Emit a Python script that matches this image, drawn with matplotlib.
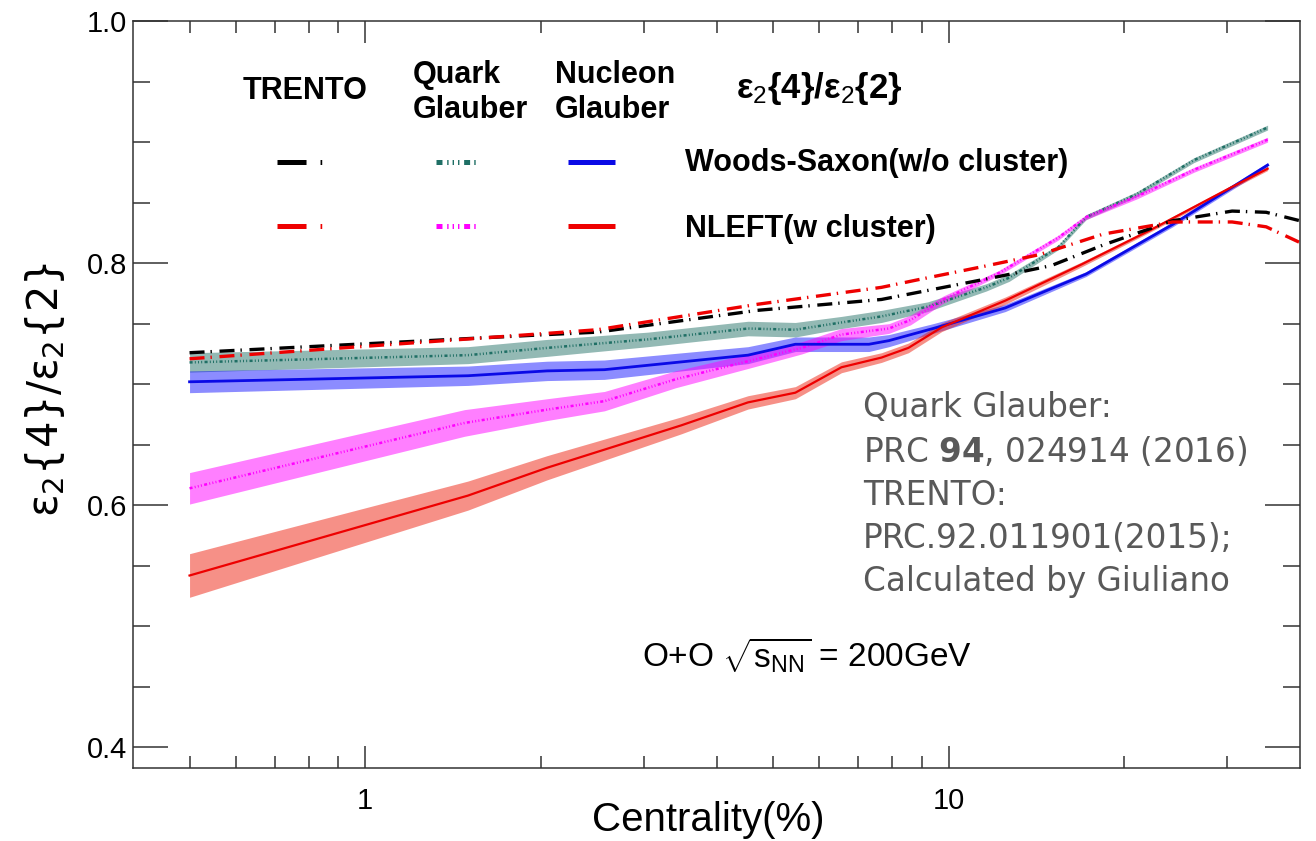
import matplotlib
matplotlib.use("Agg")
import matplotlib.pyplot as plt
from matplotlib.ticker import FixedLocator, FixedFormatter, MultipleLocator, NullFormatter

plt.rcParams['font.family'] = ['Liberation Sans', 'DejaVu Sans']
plt.rcParams['mathtext.fontset'] = 'custom'
plt.rcParams['mathtext.rm'] = 'Liberation Sans'
plt.rcParams['mathtext.it'] = 'Liberation Sans:italic'
plt.rcParams['mathtext.bf'] = 'Liberation Sans:bold'
plt.rcParams['lines.scale_dashes'] = False

# Nucleon Glauber, NLEFT (w cluster) - red band
ng_nleft_x = [0.5, 1.5, 2.05, 3.48, 4.53, 5.46, 6.55, 7.67, 8.53, 9.73, 12.5, 16.9, 22.1, 30.6, 35.2]
ng_nleft_y = [0.542, 0.608, 0.631, 0.666, 0.685, 0.693, 0.714, 0.722, 0.730, 0.747, 0.769, 0.799, 0.827, 0.863, 0.878]
ng_nleft_e = [0.018, 0.012, 0.010, 0.007, 0.0055, 0.005, 0.0045, 0.004, 0.004, 0.0035, 0.003, 0.002, 0.0015, 0.0015, 0.0015]

# Nucleon Glauber, Woods-Saxon (w/o cluster) - blue band
ng_ws_x = [0.5, 1.5, 2.05, 2.57, 4.53, 5.46, 7.3, 7.9, 9.4, 12.5, 17.2, 24.2, 35.2]
ng_ws_y = [0.702, 0.707, 0.711, 0.712, 0.724, 0.733, 0.733, 0.736, 0.746, 0.763, 0.791, 0.832, 0.881]
ng_ws_e = [0.009, 0.008, 0.008, 0.008, 0.007, 0.006, 0.006, 0.005, 0.004, 0.003, 0.002, 0.002, 0.002]

# Quark Glauber, Woods-Saxon - teal band
qg_ws_x = [0.5, 1.5, 2.05, 3.05, 4.53, 5.46, 6.55, 7.67, 9.2, 11.6, 12.7, 15.4, 17.2, 21.0, 26.3, 35.2]
qg_ws_y = [0.718, 0.724, 0.730, 0.737, 0.746, 0.745, 0.751, 0.756, 0.764, 0.780, 0.788, 0.813, 0.838, 0.857, 0.885, 0.912]
qg_ws_e = [0.008, 0.007, 0.007, 0.006, 0.006, 0.006, 0.005, 0.005, 0.004, 0.003, 0.003, 0.002, 0.002, 0.002, 0.002, 0.002]

# Quark Glauber, NLEFT - magenta band
qg_nleft_x = [0.5, 1.48, 2.05, 2.57, 3.4, 4.53, 5.6, 6.55, 7.9, 8.6, 9.8, 12.2, 15.4, 17.2, 21.0, 26.3, 35.2]
qg_nleft_y = [0.614, 0.668, 0.679, 0.686, 0.704, 0.719, 0.730, 0.741, 0.746, 0.753, 0.770, 0.792, 0.821, 0.838, 0.855, 0.877, 0.902]
qg_nleft_e = [0.013, 0.011, 0.009, 0.008, 0.007, 0.006, 0.005, 0.005, 0.004, 0.004, 0.003, 0.002, 0.002, 0.002, 0.002, 0.002, 0.002]

# TRENTO curves (no band)
tr_ws_x = [0.5, 2.05, 2.5, 4.7, 7.67, 9.8, 12.2, 15.0, 18.4, 24.2, 30.6, 35.0, 40.0]
tr_ws_y = [0.726, 0.741, 0.743, 0.761, 0.770, 0.780, 0.789, 0.798, 0.815, 0.835, 0.843, 0.842, 0.835]
tr_nleft_x = [0.5, 2.05, 2.5, 4.7, 7.67, 8.8, 11.4, 14.3, 18.4, 24.2, 30.6, 35.0, 40.0]
tr_nleft_y = [0.721, 0.742, 0.745, 0.766, 0.780, 0.786, 0.797, 0.807, 0.824, 0.834, 0.834, 0.830, 0.817]

ref_lines = ["Quark Glauber:", r"PRC $\mathbf{94}$, 024914 (2016)", "TRENTO:",
             "PRC.92.011901(2015);", "Calculated by Giuliano"]

teal = '#1f6f65'
magenta = '#ff00ff'
blue = '#0a0ae6'
red = '#ee0000'

qg_dash = (0, (2.2, 1.6, 0.7, 1.6, 0.7, 1.6, 0.7, 1.7))
tr_dash = (0, (10.8, 4.3, 1.0, 5.5))

fig = plt.figure(figsize=(13.16, 8.41), dpi=100)
ax = fig.add_axes([133/1316, 73/841, 1167/1316, 747/841])

ax.fill_between(qg_ws_x, [a - b for a, b in zip(qg_ws_y, qg_ws_e)],
                [a + b for a, b in zip(qg_ws_y, qg_ws_e)], color='#3a8077', alpha=0.55, lw=0)
ax.fill_between(ng_ws_x, [a - b for a, b in zip(ng_ws_y, ng_ws_e)],
                [a + b for a, b in zip(ng_ws_y, ng_ws_e)], color='#0000ff', alpha=0.45, lw=0)
ax.fill_between(qg_nleft_x, [a - b for a, b in zip(qg_nleft_y, qg_nleft_e)],
                [a + b for a, b in zip(qg_nleft_y, qg_nleft_e)], color=magenta, alpha=0.5, lw=0)
ax.fill_between(ng_nleft_x, [a - b for a, b in zip(ng_nleft_y, ng_nleft_e)],
                [a + b for a, b in zip(ng_nleft_y, ng_nleft_e)], color='#ee2211', alpha=0.5, lw=0)

ax.plot(qg_ws_x, qg_ws_y, color=teal, lw=1.8, linestyle=qg_dash, dash_capstyle='butt')
ax.plot(qg_nleft_x, qg_nleft_y, color=magenta, lw=1.8, linestyle=qg_dash, dash_capstyle='butt')
ax.plot(ng_ws_x, ng_ws_y, color=blue, lw=2.0)
ax.plot(ng_nleft_x, ng_nleft_y, color=red, lw=1.6)
ax.plot(tr_ws_x, tr_ws_y, color='black', lw=2.4, linestyle=tr_dash, dash_capstyle='butt')
ax.plot(tr_nleft_x, tr_nleft_y, color=red, lw=2.4, linestyle=tr_dash, dash_capstyle='butt')

ax.set_xscale('log')
ax.set_xlim(0.4, 40)
ax.set_ylim(0.383, 1.0)
ax.xaxis.set_major_locator(FixedLocator([1, 10]))
ax.xaxis.set_major_formatter(FixedFormatter(['1', '10']))
ax.xaxis.set_minor_locator(FixedLocator([0.5, 0.6, 0.7, 0.8, 0.9, 2, 3, 4, 5, 6, 7, 8, 9, 20, 30]))
ax.xaxis.set_minor_formatter(NullFormatter())
ax.yaxis.set_major_locator(FixedLocator([0.4, 0.6, 0.8, 1.0]))
ax.yaxis.set_major_formatter(FixedFormatter(['0.4', '0.6', '0.8', '1.0']))
ax.yaxis.set_minor_locator(MultipleLocator(0.05))

ax.tick_params(which='both', direction='in', top=True, right=True, width=1.1, colors='#333333',
               labelcolor='black', labelsize=21)
ax.tick_params(axis='x', which='major', length=16, pad=14)
ax.tick_params(axis='x', which='minor', length=8.5)
ax.tick_params(axis='y', which='major', length=25, pad=4)
ax.tick_params(axis='y', which='minor', length=12.5)
for s in ax.spines.values():
    s.set_linewidth(1.1)
    s.set_color('#333333')

ax.text(0.493, -0.07, 'Centrality(%)', transform=ax.transAxes, fontsize=29,
        ha='center', va='center')
ax.text(-0.075, 0.507, 'ε$_2${4}/ε$_2${2}', transform=ax.transAxes, fontsize=30,
        family='DejaVu Sans', math_fontfamily='dejavusans', rotation=90,
        ha='center', va='center')

# legend block
hdr = dict(transform=ax.transAxes, fontsize=22, fontweight='bold', va='baseline')
ax.text(0.0943, 0.8956, 'TRENTO', **hdr)
ax.text(0.240, 0.917, 'Quark', **hdr)
ax.text(0.240, 0.8708, 'Glauber', **hdr)
ax.text(0.3616, 0.917, 'Nucleon', **hdr)
ax.text(0.3616, 0.8708, 'Glauber', **hdr)
ax.text(0.517, 0.897, r'ε$_2${4}/ε$_2${2}', transform=ax.transAxes, fontsize=25,
        fontweight='bold', va='baseline')
ax.text(0.473, 0.7992, 'Woods-Saxon(w/o cluster)', **hdr)
ax.text(0.473, 0.7108, 'NLEFT(w cluster)', **hdr)

leg_tr = (0, (20.9, 10.1, 1.2, 20))
leg_qg = (0, (4.3, 3.4, 1.0, 2.9, 1.0, 2.9, 1.0, 3.4, 4.3, 3.0, 1.0, 10))
for yy, ctr, cqg, cng in [(0.8112, 'black', teal, blue), (0.7256, red, magenta, red)]:
    ax.plot([0.1234, 0.1625], [yy, yy], transform=ax.transAxes, color=ctr, lw=3.6,
            linestyle=leg_tr, dash_capstyle='butt')
    ax.plot([0.2596, 0.2975], [yy, yy], transform=ax.transAxes, color=cqg, lw=3.6,
            linestyle=leg_qg, dash_capstyle='butt')
    ax.plot([0.3727, 0.4130], [yy, yy], transform=ax.transAxes, color=cng, lw=3.6,
            solid_capstyle='butt')

ax.text(0.436, 0.151, r'O+O $\sqrt{\mathrm{s}_{\mathrm{NN}}}$ = 200GeV', transform=ax.transAxes,
        fontsize=24, va='center')

ref_y = [0.4699, 0.4096, 0.3521, 0.2945, 0.2369]
for t, yy in zip(ref_lines, ref_y):
    ax.text(0.6255, yy, t, transform=ax.transAxes, fontsize=23.5, color='#595959',
            family='DejaVu Sans', math_fontfamily='dejavusans', va='baseline')

fig.savefig('out.png', dpi=100)
